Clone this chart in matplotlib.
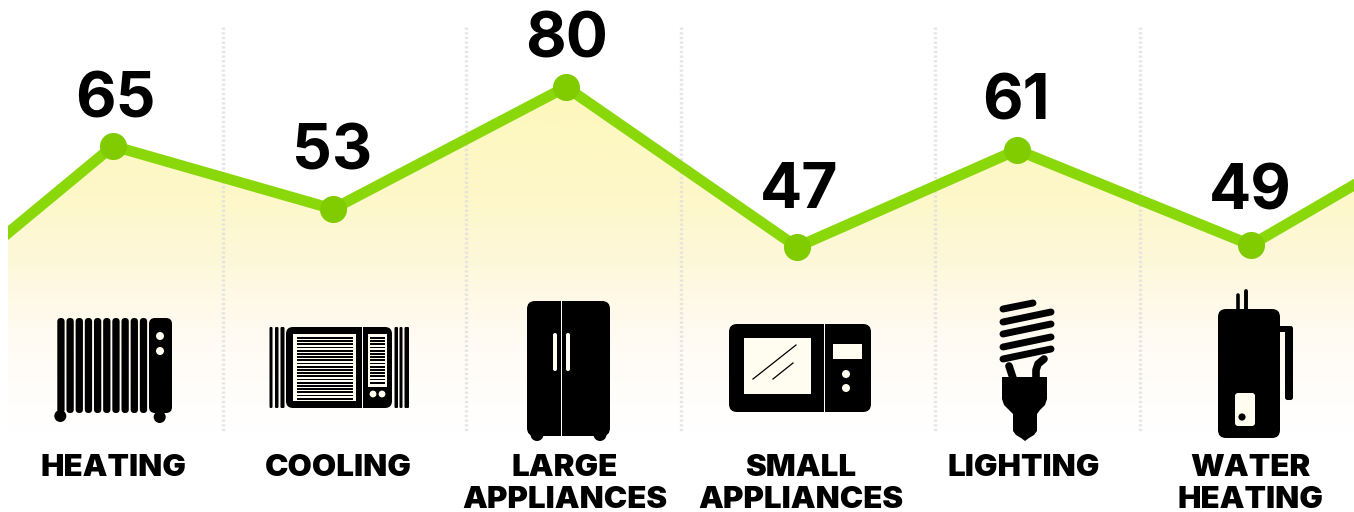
import numpy as np
import matplotlib.pyplot as plt
from matplotlib.colors import LinearSegmentedColormap
from matplotlib.patches import Circle, FancyBboxPatch, Polygon, Rectangle

plt.rcParams['font.family'] = ['Inter', 'DejaVu Sans']

categories = ['HEATING', 'COOLING', 'LARGE\nAPPLIANCES', 'SMALL\nAPPLIANCES', 'LIGHTING', 'WATER\nHEATING']
values = [65, 53, 80, 47, 61, 49]

# the line is not to scale with the printed numbers, so its heights are read separately
point_x = [113, 333, 566, 797, 1017, 1251]
point_y = [146, 209, 87, 247, 150, 245]
line_x = [8] + point_x + [1354]
line_y = [233] + point_y + [185]

value_x = [115, 332, 567, 799, 1016, 1250]
value_y = [94, 147, 34, 185, 96, 187]
label_x = [113, 338, 565, 801, 1024, 1250]
separators = [223, 466, 681, 935, 1140]

BLACK = '#000000'
GREEN = '#8ad80a'
DOT = '#80cc00'
CREAM = '#fffcf0'

fig = plt.figure(figsize=(13.54, 5.12), dpi=100)
ax = fig.add_axes([0, 0, 1, 1])

# gradient under the line
fade = LinearSegmentedColormap.from_list('fade', [(0, '#fef7bc'), (0.3, '#fdf7c8'), (0.53, '#fef8dc'),
                                                  (0.62, '#fff9e8'), (0.73, '#fffbf3'), (0.85, '#fffdf9'),
                                                  (1, '#ffffff')])
grad = ax.imshow(np.linspace(0, 1, 256).reshape(-1, 1), cmap=fade, vmin=0, vmax=1,
                 extent=(8, 1354, 432, 87), aspect='auto', zorder=1)
area = Polygon(list(zip(line_x, line_y)) + [(1354, 432), (8, 432)], closed=True,
               transform=ax.transData, fc='none', ec='none')
ax.add_patch(area)
grad.set_clip_path(area)

for x in separators:
    ax.plot([x, x], [27, 432], color='#dcdcdc', lw=2.4, ls=(0, (0.7, 0.7)), alpha=0.7, zorder=2)

trend, = ax.plot(line_x, line_y, color=GREEN, lw=7.8, solid_joinstyle='miter', zorder=3)
trend.set_clip_path(Rectangle((8, 0), 1346, 512, transform=ax.transData))
ax.plot(point_x, point_y, 'o', color=DOT, ms=19.5, mew=0, zorder=4)


def rbox(x0, y0, x1, y1, r, color=BLACK, z=5):
    ax.add_patch(FancyBboxPatch((x0, y0), x1 - x0, y1 - y0, boxstyle=f'round,pad=0,rounding_size={r}',
                                fc=color, ec='none', zorder=z))


def dot(x, y, r, color=BLACK, z=5):
    ax.add_patch(Circle((x, y), r, fc=color, ec='none', zorder=z))


def rect(x0, y0, x1, y1, color=BLACK, z=5):
    ax.add_patch(Rectangle((x0, y0), x1 - x0, y1 - y0, fc=color, ec='none', zorder=z))


# heater
for i in range(10):
    rbox(57.3 + i * 9.17, 318, 64.6 + i * 9.17, 413, 3.6)
rbox(149, 318, 172, 413, 6)
dot(160, 336, 4, CREAM, 6)
dot(160, 351, 4, CREAM, 6)
rect(57.5, 405, 63.5, 416)
dot(60.3, 416, 6)
dot(159.7, 417, 6)

# air conditioner
for x0, x1 in [(269.5, 272.5), (275, 278.5), (280.5, 284.5), (394.5, 398), (399.5, 402.5), (404.5, 409)]:
    rbox(x0, 327, x1, 408, 1.2)
rbox(286, 327, 392, 408, 7)
rect(361.6, 327, 362.6, 408, CREAM, 6)
rect(293, 334, 356, 401, CREAM, 6)
rect(368, 334, 387, 387, CREAM, 6)
for y in np.arange(337, 399.5, 3.2):
    rect(297, y, 353, y + 1.9, BLACK, 7)
for y in np.arange(337, 385, 3.2):
    rect(370, y, 385, y + 1.9, BLACK, 7)
dot(373, 394, 3.4, CREAM, 6)
dot(382, 394, 3.4, CREAM, 6)

# fridge
dot(537, 434.5, 6.5)
dot(600, 434.5, 6.5)
rbox(527, 301, 610, 436, 8)
rect(560.6, 301, 561.6, 436, CREAM, 6)
rbox(553, 333, 557, 371, 2, CREAM, 6)
rbox(566, 333, 570, 371, 2, CREAM, 6)

# microwave
rbox(729, 324, 871, 412, 8)
rect(823.6, 324, 824.6, 412, CREAM, 6)
rect(744, 338, 811, 394, CREAM, 6)
ax.plot([753, 796], [379, 345], color=BLACK, lw=0.9, zorder=7)
ax.plot([773, 793], [379, 363], color=BLACK, lw=0.9, zorder=7)
rect(833, 344, 862, 359, CREAM, 6)
dot(846, 374, 4, CREAM, 6)
dot(846, 388, 4, CREAM, 6)

# bulb
coils = [(1003, 309, 1033, 303), (1003, 322, 1051, 312), (1003, 334, 1051, 324),
         (1003, 347, 1051, 337), (1003, 359, 1051, 349)]
for x0, y0, x1, y1 in coils:
    ax.plot([x0, x1], [y0, y1], color=BLACK, lw=5, solid_capstyle='round', zorder=5)
ax.plot([1009, 1013], [366, 378], color=BLACK, lw=5.5, solid_capstyle='round', zorder=5)
ax.plot([1044, 1038, 1036, 1036], [359, 364, 370, 378], color=BLACK, lw=5.5, solid_capstyle='round', zorder=5)
ax.add_patch(Polygon([(1002, 377), (1047, 377), (1047, 399), (1045, 405), (1040, 410), (1037, 414),
                      (1037, 431), (1034, 435), (1029, 438), (1025, 441), (1021, 438), (1016, 435),
                      (1013, 431), (1013, 414), (1009, 410), (1004, 405), (1002, 399)],
                     closed=True, fc=BLACK, ec='none', zorder=5))

# water heater
rbox(1218, 309, 1280, 438, 8)
ax.plot([1238, 1238], [295, 310], color=BLACK, lw=2.6, solid_capstyle='round', zorder=5)
ax.plot([1246, 1246], [291, 310], color=BLACK, lw=2.8, solid_capstyle='round', zorder=5)
rect(1279, 326, 1290, 332)
rbox(1285, 326, 1293, 400, 2.5)
rbox(1235, 393, 1255, 426, 3, CREAM, 6)
dot(1242, 417, 3.6, BLACK, 7)

for x, y, v in zip(value_x, value_y, values):
    ax.text(x, y, str(v), fontsize=45, fontweight='bold', ha='center', va='center_baseline',
            color=BLACK, zorder=8)

for x, label in zip(label_x, categories):
    for j, part in enumerate(label.split('\n')):
        ax.text(x, 476 + j * 32, part, fontsize=22.5, fontweight='black', ha='center',
                va='baseline', color=BLACK, zorder=8)

ax.set_xlim(0, 1354)
ax.set_ylim(512, 0)
ax.axis('off')
fig.savefig('out.png', dpi=100, facecolor='white')
